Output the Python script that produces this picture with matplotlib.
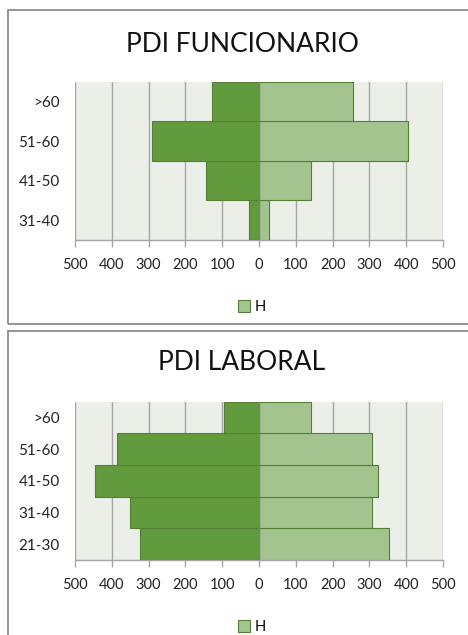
import matplotlib
matplotlib.use("Agg")
import matplotlib.pyplot as plt
from matplotlib.patches import Rectangle
from matplotlib.ticker import FixedLocator, FuncFormatter

# ---- data ----
func_categories = ["31-40", "41-50", "51-60", ">60"]
func_m = [28, 143, 290, 129]
func_h = [26, 142, 406, 256]

lab_categories = ["21-30", "31-40", "41-50", "51-60", ">60"]
lab_m = [323, 350, 445, 387, 95]
lab_h = [352, 306, 324, 306, 142]

x_ticks = [-500, -400, -300, -200, -100, 0, 100, 200, 300, 400, 500]

titles = ["PDI FUNCIONARIO", "PDI LABORAL"]

DARK = "#629a3e"
LIGHT = "#a3c48f"
EDGE = "#527f34"
BG = "#ebefe7"
GRID = "#a6a6a6"
FONT = ["Lato", "DejaVu Sans"]

W, H = 468, 635
fig = plt.figure(figsize=(W / 100, H / 100), dpi=100)


def fx(px):
    return px / W


def fy(py):
    return 1 - py / H


# boxes
fig.patches.append(Rectangle((fx(8), fy(324)), 1.2, (324 - 10) / H, transform=fig.transFigure,
                             fill=False, edgecolor="#8c8c8c", linewidth=1.3, zorder=0))
fig.patches.append(Rectangle((fx(8), -0.1), 1.2, fy(330.5) + 0.1, transform=fig.transFigure,
                             fill=False, edgecolor="#8c8c8c", linewidth=1.3, zorder=0))


def draw(ax_rect, cats, m, h, title, title_y, legend_y):
    ax = fig.add_axes(ax_rect)
    ax.set_facecolor(BG)
    y = range(len(cats))
    ax.barh(y, [-v for v in m], height=1.0, color=DARK, edgecolor=EDGE, linewidth=0.8, zorder=3)
    bars_h = ax.barh(y, h, height=1.0, color=LIGHT, edgecolor=EDGE, linewidth=0.8, zorder=3, label="H")
    ax.set_xlim(-500, 500)
    ax.set_ylim(-0.5, len(cats) - 0.5)
    ax.xaxis.set_major_locator(FixedLocator(x_ticks))
    ax.xaxis.set_major_formatter(FuncFormatter(lambda v, p: f"{abs(int(round(v)))}"))
    ax.set_yticks(list(y))
    ax.set_yticklabels(cats, fontfamily=FONT, fontsize=11, color="#222222")
    for lbl in ax.get_xticklabels():
        lbl.set_fontfamily(FONT)
    ax.tick_params(axis="x", length=5, width=1, color=GRID, labelsize=10.5, labelcolor="#222222", pad=8)
    ax.tick_params(axis="y", length=0, pad=11)
    ax.grid(axis="x", color=GRID, linewidth=1, zorder=1)
    ax.axvline(0, color="#7f7f7f", linewidth=1, zorder=4)
    for s in ["top", "right"]:
        ax.spines[s].set_visible(False)
    ax.spines["left"].set_visible(False)
    ax.spines["bottom"].set_color(GRID)
    ax.spines["bottom"].set_linewidth(1)
    fig.text(fx(242), fy(title_y), title, ha="center", va="center", fontsize=19,
             fontfamily=FONT, color="#111111")
    fig.legend(handles=[bars_h], labels=["H"], loc="center", bbox_to_anchor=(fx(252), fy(legend_y)),
               frameon=False, prop={"family": FONT, "size": 10.5}, handlelength=0.8, handleheight=0.8,
               handletextpad=0.3)
    return ax


draw([fx(75), fy(240), fx(443) - fx(75), fy(81.7) - fy(240)], func_categories, func_m, func_h,
     titles[0], 45, 307)
draw([fx(75), fy(560), fx(443) - fx(75), fy(401.7) - fy(560)], lab_categories, lab_m, lab_h,
     titles[1], 363, 627)

fig.savefig("out.png", dpi=100)
